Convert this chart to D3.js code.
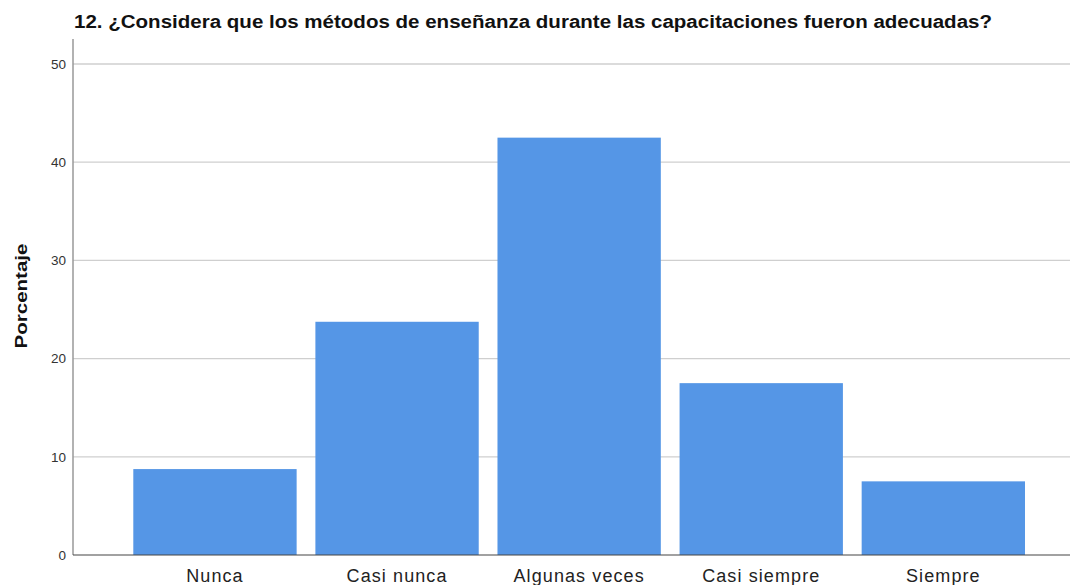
<!DOCTYPE html>
<html><head><meta charset="utf-8">
<script src="https://cdn.jsdelivr.net/npm/d3@7"></script>
<style>body{margin:0;background:#fff}svg{display:block}</style>
</head><body>
<svg id="c" width="1070" height="585"></svg>
<script>
const categories = ["Nunca", "Casi nunca", "Algunas veces", "Casi siempre", "Siempre"];
const values = [8.75, 23.75, 42.5, 17.5, 7.5];
const yTicks = [0, 10, 20, 30, 40, 50];
const title = "12. ¿Considera que los métodos de enseñanza durante las capacitaciones fueron adecuadas?";
const yLabel = "Porcentaje";

const svg = d3.select("#c");
const axisX = 73, plotTop = 39, plotRight = 1070;
const FONT = "Liberation Sans, Arial, sans-serif";

const y = d3.scaleLinear().domain([0, 50]).range([555, 64]);
const x = d3.scaleBand().domain(categories).range([133.3, 1025]).paddingInner(0.103).paddingOuter(0);

// gridlines
svg.append("g").selectAll("line").data(yTicks.filter(d => d > 0)).join("line")
  .attr("x1", axisX).attr("x2", plotRight)
  .attr("y1", d => y(d)).attr("y2", d => y(d))
  .attr("stroke", "#cfcfcf").attr("stroke-width", 1.3);

// bars
svg.append("g").selectAll("rect").data(values).join("rect")
  .attr("x", (d, i) => x(categories[i]))
  .attr("width", x.bandwidth())
  .attr("y", d => y(d))
  .attr("height", d => y(0) - y(d))
  .attr("fill", "#5596e6");

// y axis
const yAxis = d3.axisLeft(y).tickValues(yTicks).tickSize(0).tickPadding(7);
const gy = svg.append("g").attr("transform", `translate(${axisX},0)`).call(yAxis);
gy.select(".domain").remove();
gy.selectAll("text").attr("font-family", FONT).attr("font-size", 13.5).attr("fill", "#333");
svg.append("line").attr("x1", axisX).attr("x2", axisX).attr("y1", plotTop).attr("y2", y(0))
  .attr("stroke", "#999").attr("stroke-width", 1.5);

// x axis
const xAxis = d3.axisBottom(x).tickSize(0).tickPadding(14);
const gx = svg.append("g").attr("transform", `translate(0,${y(0)})`).call(xAxis);
gx.select(".domain").remove();
gx.selectAll("text").attr("font-family", FONT).attr("font-size", 18).attr("letter-spacing", "1.1px").attr("fill", "#222");
svg.append("line").attr("x1", axisX).attr("x2", plotRight).attr("y1", y(0)).attr("y2", y(0))
  .attr("stroke", "#444").attr("stroke-width", 1.2);

// title
svg.append("text").attr("x", 74).attr("y", 28).text(title)
  .attr("textLength", 918).attr("lengthAdjust", "spacingAndGlyphs")
  .attr("font-family", FONT).attr("font-size", 18).attr("font-weight", "bold").attr("fill", "#111");

// y label
svg.append("text").attr("transform", `translate(27,296) rotate(-90)`).attr("text-anchor", "middle").text(yLabel)
  .attr("textLength", 105).attr("lengthAdjust", "spacingAndGlyphs")
  .attr("font-family", FONT).attr("font-size", 16.5).attr("font-weight", "bold").attr("fill", "#111");
</script>
</body></html>
